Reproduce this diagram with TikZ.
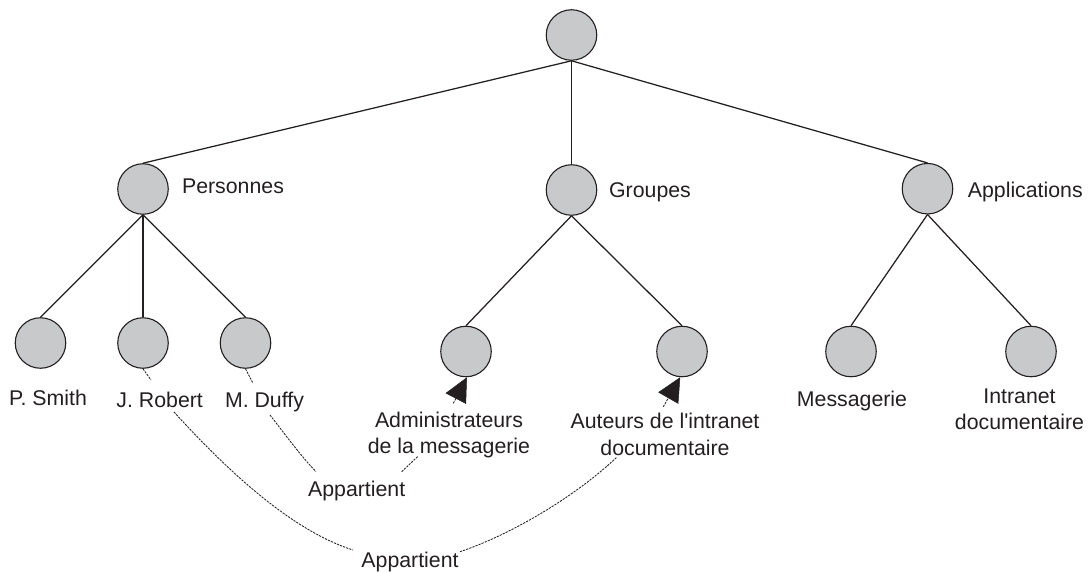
\documentclass[tikz,border=0pt]{standalone}
\usepackage{fontspec}
\setmainfont{Liberation Sans}
\usetikzlibrary{arrows.meta}
\definecolor{ink}{RGB}{35,31,32}
\definecolor{disc}{RGB}{200,201,203}
\begin{document}
\begin{tikzpicture}[x=1pt,y=-1pt,
  vertex/.style={circle,draw=ink,fill=disc,line width=1.1pt,minimum size=50.5pt,inner sep=0pt},
  edge/.style={draw=ink,line width=1.25pt},
  lab/.style={text=ink,font=\fontsize{21.3}{26.5}\selectfont,inner sep=0pt,anchor=base},
  lab2/.style={text=ink,font=\fontsize{21.3}{26.5}\selectfont,inner sep=0pt,anchor=north,align=center},
  link/.style={draw=ink,line width=0.85pt,dash pattern=on 2.2pt off 1.1pt},
  linkarrow/.style={link,-{Triangle[length=24pt,width=23pt,line width=0.5pt,fill=ink]}}]
\path[use as bounding box] (0,0) rectangle (1092,572);

% tree vertices
\node[vertex] (root)    at (571.5,35)   {};
\node[vertex] (pers)    at (143,189)    {};
\node[vertex] (grp)     at (571.5,190)  {};
\node[vertex] (appl)    at (927.5,188.7){};
\node[vertex] (smith)   at (40.5,343)   {};
\node[vertex] (robert)  at (143,343)    {};
\node[vertex] (duffy)   at (245.5,343)  {};
\node[vertex] (admin)   at (466,351.5)  {};
\node[vertex] (auteurs) at (682,351.5)  {};
\node[vertex] (messag)  at (851,351.5)  {};
\node[vertex] (intra)   at (1031,351.5) {};

% tree edges
\draw[edge] (root.south) -- (pers.north);
\draw[edge] (root.south) -- (grp.north);
\draw[edge] (root.south) -- (appl.north);
\draw[edge] (pers.south) -- (smith.north);
\draw[edge] (pers.south) -- (robert.north);
\draw[edge] (pers.south) -- (duffy.north);
\draw[edge] (grp.south) -- (admin.north);
\draw[edge] (grp.south) -- (auteurs.north);
\draw[edge] (appl.south) -- (messag.north);
\draw[edge] (appl.south) -- (intra.north);

% labels
\node[lab] (persl)    at (233,193.5)  {Personnes};
\node[lab] (grpl)     at (650,198)    {Groupes};
\node[lab] (appll)    at (1025.3,197) {Applications};
\node[lab] (smithl)   at (48,405)     {P. Smith};
\node[lab] (robertl)  at (159.7,407)  {J. Robert};
\node[lab] (duffyl)   at (264.5,407)  {M. Duffy};
\node[lab] (messagl)  at (852,406)    {Messagerie};
\node[lab2] (adminl)  at (449,411.5)  {Administrateurs\\de la messagerie};
\node[lab2] (auteursl) at (665,413)   {Auteurs de l\textquotesingle intranet\\documentaire};
\node[lab2] (intral)  at (1019.5,388.3) {Intranet\\documentaire};
\node[lab] (app1)     at (356.7,496.7) {Appartient};
\node[lab] (app2)     at (410,567.7)  {Appartient};

% membership: J. Robert -> Auteurs de l'intranet documentaire
\draw[link] (robert.south) -- ([shift={(-8.7,-27)}]robertl.base);
\draw[link] ([shift={(14.3,5)}]robertl.base) .. controls (225,468) and (290,530) .. ([shift={(-57,-17.7)}]app2.base);
\draw[link] ([shift={(50,-16)}]app2.base) .. controls (510,535) and (575,497) .. ([shift={(-48,44)}]auteursl.north);
\draw[linkarrow] ([shift={(-1.7,-6.3)}]auteursl.north) -- (auteurs.-94);

% membership: M. Duffy -> Administrateurs de la messagerie
\draw[link] (duffy.south) -- ([shift={(-11.8,-24.3)}]duffyl.base);
\draw[link] ([shift={(5.5,8)}]duffyl.base) .. controls (284,433) and (300,455) .. ([shift={(-40.7,-25)}]app1.base);
\draw[link] ([shift={(45,-25)}]app1.base) -- ([shift={(-30.7,44.5)}]adminl.north);
\draw[linkarrow] ([shift={(4.3,-8.2)}]adminl.north) -- (admin.-88);
\end{tikzpicture}
\end{document}
